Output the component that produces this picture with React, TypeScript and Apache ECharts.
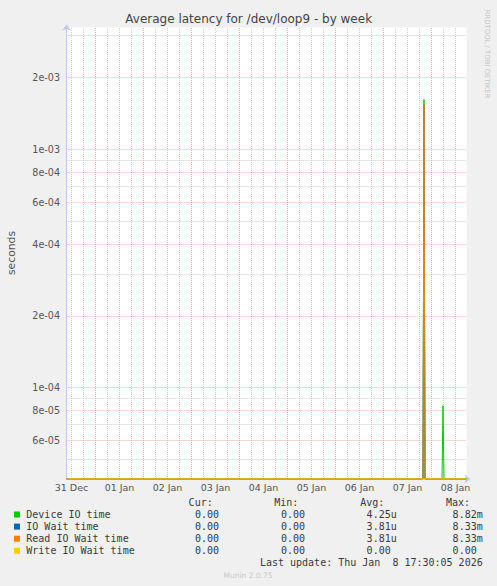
import { useEffect, useRef } from 'react';
import * as echarts from 'echarts';

// Munin "diskstats latency" weekly graph for /dev/loop9 (log scale)

const TITLE = 'Average latency for /dev/loop9 - by week';
const Y_NAME = 'seconds';
const LAST_UPDATE = 'Last update: Thu Jan  8 17:30:05 2026';
const VERSION = 'Munin 2.0.75';
const WATERMARK = 'RRDTOOL / TOBI OETIKER';

const START = '2025-12-31 09:30';
const END = '2026-01-08 17:30';

const Y_MIN = 4.13e-5;
const Y_MAX = 3.245e-3;

// samples [time, seconds]; 0 sits on the floor of the log axis
const deviceIoTime: [string, number][] = [
  ['2025-12-31 09:30', 0],
  ['2026-01-07 19:45', 0],
  ['2026-01-07 20:15', 1.62e-3],
  ['2026-01-07 20:45', 0],
  ['2026-01-08 05:15', 0],
  ['2026-01-08 05:45', 8.4e-5],
  ['2026-01-08 06:15', 0],
  ['2026-01-08 17:30', 0],
];
const ioWaitTime: [string, number][] = [
  ['2025-12-31 09:30', 0],
  ['2026-01-07 19:45', 0],
  ['2026-01-07 20:15', 1.53e-3],
  ['2026-01-07 20:45', 0],
  ['2026-01-08 17:30', 0],
];
const readIoWaitTime: [string, number][] = [
  ['2025-12-31 09:30', 0],
  ['2026-01-07 19:45', 0],
  ['2026-01-07 20:15', 1.53e-3],
  ['2026-01-07 20:45', 0],
  ['2026-01-08 17:30', 0],
];
const writeIoWaitTime: [string, number][] = [
  ['2025-12-31 09:30', 0],
  ['2026-01-08 17:30', 0],
];

const SERIES_NAMES = ['Device IO time', 'IO Wait time', 'Read IO Wait time', 'Write IO Wait time'];
const SERIES_COLORS = ['#00cc00', '#0066b3', '#ff8000', '#ffcc00'];
const CUR = ['0.00', '0.00', '0.00', '0.00'];
const MIN = ['0.00', '0.00', '0.00', '0.00'];
const AVG = ['4.25u', '3.81u', '3.81u', '0.00'];
const MAX = ['8.82m', '8.33m', '8.33m', '0.00'];
const HEADERS = ['Cur:', 'Min:', 'Avg:', 'Max:'];

const Y_MAJOR = [2e-3, 1e-3, 8e-4, 6e-4, 4e-4, 2e-4, 1e-4, 8e-5, 6e-5];
const Y_LABELS = ['2e-03', '1e-03', '8e-04', '6e-04', '4e-04', '2e-04', '1e-04', '8e-05', '6e-05'];
const Y_MINOR = [3e-3, 9e-4, 7e-4, 5e-4, 3e-4, 9e-5, 7e-5, 5e-5];

const X_LABEL_TIMES = [
  '2025-12-31 12:00', '2026-01-01 12:00', '2026-01-02 12:00', '2026-01-03 12:00', '2026-01-04 12:00',
  '2026-01-05 12:00', '2026-01-06 12:00', '2026-01-07 12:00', '2026-01-08 12:00',
];
const X_LABELS = ['31 Dec', '01 Jan', '02 Jan', '03 Jan', '04 Jan', '05 Jan', '06 Jan', '07 Jan', '08 Jan'];

const AXIS_COLOR = '#c4c8f4';
const MAJOR_GRID = '#f0b0b0';
const MINOR_GRID = '#cdcdcd';
const TEXT_COLOR = '#555';
const FONT = 'DejaVu Sans';
const MONO = 'DejaVu Sans Mono';
const CHAR_W = 6.02;
const SIX_HOURS = 6 * 3600 * 1000;
const DAY = 24 * 3600 * 1000;

function toMs(s: string) {
  const [d, t] = s.split(' ');
  const [y, m, day] = d.split('-').map(Number);
  const [h, mi] = t.split(':').map(Number);
  return Date.UTC(y, m - 1, day, h, mi);
}

function lineSeries(i: number, samples: [string, number][]) {
  return {
    name: SERIES_NAMES[i],
    type: 'line',
    data: samples.map(([t, v]) => [toMs(t), v > 0 ? v : Y_MIN]),
    showSymbol: false,
    symbol: 'none',
    silent: true,
    z: 3,
    lineStyle: { color: SERIES_COLORS[i], width: 1 },
    itemStyle: { color: SERIES_COLORS[i] },
  };
}

function gridLines() {
  const lines: any[] = [];
  const hLabel = (text: string) => ({
    show: true, position: 'start', formatter: text, distance: 6.5,
    color: TEXT_COLOR, fontSize: 9.6, fontFamily: FONT,
  });
  const vLabel = (text: string) => ({
    show: true, position: 'start', formatter: text, distance: 3,
    color: TEXT_COLOR, fontSize: 9.5, fontFamily: FONT,
  });
  const style = (major: boolean) => ({ color: major ? MAJOR_GRID : MINOR_GRID, width: 1, type: [1, 1] });

  const start = toMs(START);
  const end = toMs(END);
  const labelTimes = X_LABEL_TIMES.map(toMs);
  for (let t = Math.ceil(start / SIX_HOURS) * SIX_HOURS; t <= end; t += SIX_HOURS) {
    const major = t % DAY === 0;
    const li = labelTimes.indexOf(t);
    lines.push([
      { coord: [t, Y_MIN], lineStyle: style(major), label: li >= 0 ? vLabel(X_LABELS[li]) : { show: false } },
      { coord: [t, Y_MAX] },
    ]);
  }
  Y_MINOR.forEach((v) =>
    lines.push([{ coord: [start, v], lineStyle: style(false), label: { show: false } }, { coord: [end, v] }]),
  );
  Y_MAJOR.forEach((v, i) =>
    lines.push([{ coord: [start, v], lineStyle: style(true), label: hLabel(Y_LABELS[i]) }, { coord: [end, v] }]),
  );
  return lines;
}

function legendGraphics() {
  const els: any[] = [];
  const text = (s: string, x: number, y: number, align = 'left') => ({
    type: 'text', x, y, silent: true,
    style: { text: s, fill: '#3a3a3a', fontSize: 10, fontFamily: MONO, textAlign: align, textVerticalAlign: 'middle' },
  });
  const headerRight = [212.7, 298.3, 384.3, 470];
  const valueRight = [219, 305, 390.7, 476.7];
  HEADERS.forEach((h, c) => els.push(text(h, headerRight[c], 502.7, 'right')));
  SERIES_NAMES.forEach((name, i) => {
    const y = 514.5 + i * 12.1;
    els.push({ type: 'rect', silent: true, shape: { x: 14, y: y - 3, width: 6, height: 6 }, style: { fill: SERIES_COLORS[i] } });
    els.push(text(name, 26.3, y));
    [CUR[i], MIN[i], AVG[i], MAX[i]].forEach((v, c) => {
      const hasUnit = /[a-zA-Z]$/.test(v);
      els.push(text(v, valueRight[c] + (hasUnit ? CHAR_W : 0), y, 'right'));
    });
  });
  els.push(text(LAST_UPDATE, 482.7, 562.3, 'right'));
  return els;
}

export default function App() {
  const ref = useRef<HTMLDivElement>(null);

  useEffect(() => {
    if (!ref.current) return;
    const chart = echarts.init(ref.current, undefined, { renderer: 'svg' });

    const option = {
      animation: false,
      backgroundColor: '#f0f0f0',
      grid: { left: 66.5, top: 27.5, width: 400, height: 451.5, show: true, backgroundColor: '#ffffff', borderWidth: 0 },
      xAxis: {
        type: 'value',
        min: toMs(START),
        max: toMs(END),
        axisLine: {
          show: true, onZero: false,
          lineStyle: { color: AXIS_COLOR, width: 1 },
          symbol: ['none', 'arrow'], symbolSize: [7, 6], symbolOffset: [0, 4],
        },
        axisTick: { show: false },
        axisLabel: { show: false },
        splitLine: { show: false },
      },
      yAxis: {
        type: 'log',
        min: Y_MIN,
        max: Y_MAX,
        axisLine: {
          show: true, onZero: false,
          lineStyle: { color: AXIS_COLOR, width: 1 },
          symbol: ['none', 'arrow'], symbolSize: [7, 6], symbolOffset: [0, 3],
        },
        axisTick: { show: false },
        axisLabel: { show: false },
        splitLine: { show: false },
        minorSplitLine: { show: false },
      },
      series: [
        {
          type: 'line',
          data: [],
          clip: false,
          silent: true,
          markLine: {
            silent: true,
            symbol: ['none', 'none'],
            animation: false,
            z: 1,
            emphasis: { disabled: true },
            data: gridLines(),
          },
        },
        lineSeries(0, deviceIoTime),
        lineSeries(1, ioWaitTime),
        lineSeries(2, readIoWaitTime),
        lineSeries(3, writeIoWaitTime),
      ],
      graphic: [
        {
          type: 'text', x: 248.7, y: 19, silent: true,
          style: { text: TITLE, fill: '#444', fontSize: 12, fontFamily: FONT, textAlign: 'center', textVerticalAlign: 'middle' },
        },
        {
          type: 'text', x: 11.2, y: 253, rotation: Math.PI / 2, silent: true,
          style: { text: Y_NAME, fill: TEXT_COLOR, fontSize: 10.8, fontFamily: FONT, textAlign: 'center', textVerticalAlign: 'middle' },
        },
        {
          type: 'text', x: 486.5, y: 54, rotation: -Math.PI / 2, silent: true,
          style: { text: WATERMARK, fill: '#c4c4c4', fontSize: 6.9, fontFamily: FONT, textAlign: 'center', textVerticalAlign: 'middle' },
        },
        {
          type: 'text', x: 248, y: 575, silent: true,
          style: { text: VERSION, fill: '#c8c8c8', fontSize: 7.5, fontFamily: FONT, textAlign: 'center', textVerticalAlign: 'middle' },
        },
        ...legendGraphics(),
      ],
    };

    chart.setOption(option as any);
    return () => chart.dispose();
  }, []);

  return <div ref={ref} style={{ position: 'absolute', left: 0, top: 0, width: 497, height: 586 }} />;
}
